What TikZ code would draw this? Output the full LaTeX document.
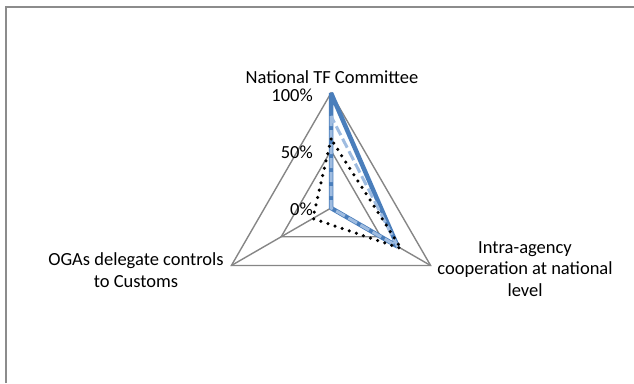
\documentclass[tikz,border=0pt]{standalone}
\usepackage{fontspec}
\setmainfont{Carlito}
\definecolor{framegray}{HTML}{8C8C8C}
\definecolor{gridgray}{HTML}{868686}
\definecolor{seriesblue}{HTML}{4A7EBB}
\definecolor{serieslight}{HTML}{9FBCE0}
\begin{document}
\begin{tikzpicture}[x=1pt, y=-1pt,
    grid line/.style={draw=gridgray, line width=1.4pt},
    axis label/.style={align=center, inner sep=0pt},
    pct label/.style={anchor=base east, inner sep=0pt},
    series one/.style={draw=seriesblue, line width=4.5pt, line join=bevel},
    series two/.style={draw=serieslight, line width=3pt, line join=bevel, dash pattern=on 10pt off 4pt},
    series three/.style={draw=black, line width=3.5pt, line cap=round, dash pattern=on 0pt off 7.5pt}]
  \tikzstyle{every node}=[font=\fontsize{18.5}{21.5}\selectfont]

  \useasboundingbox (0,0) rectangle (634,383);
  \draw[framegray, line width=2pt] (6,383) -- (6,7) -- (634,7);

  % y points down here, so angles run clockwise
  \begin{scope}[shift={(331,208)}]
    \coordinate (o) at (0,0);
    \foreach \ang/\name in {270/top, 150/left, 30/right}{
      \coordinate (\name) at (\ang:115);
      \coordinate (\name-half) at (\ang:57.5);
    }
    % grid and spokes
    \draw[grid line] (top) -- (left) -- (right) -- cycle;
    \draw[grid line] (top-half) -- (left-half) -- (right-half) -- cycle;
    \draw[grid line] (o) -- (top) (o) -- (left) (o) -- (right);

    % data
    \coordinate (a top) at (270:115);  \coordinate (a right) at (30:77);
    \coordinate (b top) at (270:92);   \coordinate (b right) at (30:77);
    \coordinate (c top) at (270:69);   \coordinate (c left) at (150:21);
    \coordinate (c right) at (30:81);
    \draw[series one] (a top) -- (o) -- (a right) -- cycle;
    \draw[series two] (b top) -- (o) -- (b right) -- cycle;
    \draw[series three] (c top) -- (c left) -- (c right) -- cycle;
  \end{scope}

  \node[pct label] (p100) at (313,101) {100\%};
  \node[pct label] (p50) at (313,158) {50\%};
  \node[pct label] (p0) at (313,215) {0\%};

  \node[axis label, anchor=base] (lbl top) at (332,83) {National TF Committee};
  \node[axis label] (lbl left) at (136,270) {OGAs delegate controls\\to Customs};
  \node[axis label] (lbl right) at (525,269) {Intra-agency\\cooperation at national\\level};
\end{tikzpicture}
\end{document}
